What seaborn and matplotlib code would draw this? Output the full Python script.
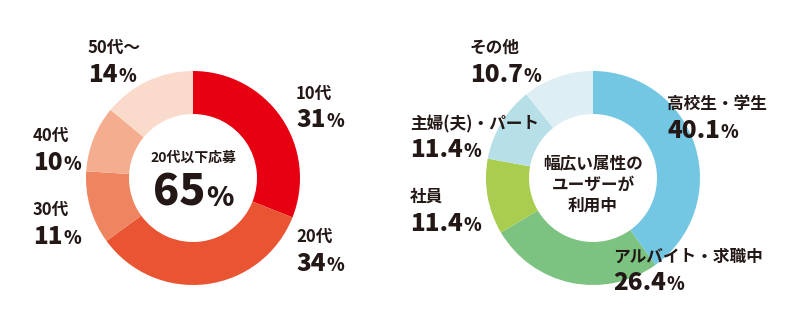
import matplotlib
matplotlib.use("Agg")
import matplotlib.pyplot as plt
import seaborn as sns

# left donut: applicants by age
age_labels = ["10代", "20代", "30代", "40代", "50代〜"]
age_values = [31, 34, 11, 10, 14]
age_colors = ["#E60012", "#E95532", "#EF8460", "#F4AE8F", "#FADACA"]
age_center = ["20代以下応募", "65"]

# right donut: user attributes
attr_labels = ["高校生・学生", "アルバイト・求職中", "社員", "主婦(夫)・パート", "その他"]
attr_values = [40.1, 26.4, 11.4, 11.4, 10.7]
attr_colors = ["#74C7E2", "#7CC381", "#A8CD4F", "#B7DFE8", "#DDEFF4"]
attr_center = ["幅広い属性の", "ユーザーが", "利用中"]

sns.set_theme(style="white")
plt.rcParams["font.family"] = ["Noto Sans CJK JP", "DejaVu Sans"]
plt.rcParams["font.weight"] = "bold"

TXT = "#231815"

fig = plt.figure(figsize=(8, 3.3), dpi=100)
ax = fig.add_axes([0, 0, 1, 1])

R = 107
W = 43


def donut(values, colors, cx, cy):
    ax.pie(values, colors=colors, startangle=90, counterclock=False,
           center=(cx, cy), radius=R, frame=True,
           wedgeprops=dict(width=W, linewidth=0))


donut(age_values, age_colors, 193, 152)
donut(attr_values, attr_colors, 593, 152)
ax.set_xlim(0, 800)
ax.set_ylim(0, 330)
ax.set_aspect("equal")
ax.axis("off")

renderer = fig.canvas.get_renderer()
inv = ax.transData.inverted()


def pct_text(x, y, num, size, psize, ha="left"):
    # number in big type followed by a smaller percent sign
    t = ax.text(x, y, num, fontsize=size, fontweight="black", color=TXT,
                ha="left", va="baseline")
    bb = t.get_window_extent(renderer=renderer)
    x1 = inv.transform((bb.x1, bb.y0))[0]
    p = ax.text(x1 + 1, y, "%", fontsize=psize, fontweight="black", color=TXT,
                ha="left", va="baseline")
    if ha == "center":
        pb = p.get_window_extent(renderer=renderer)
        shift = (pb.x1 - bb.x0) / 2
        dx = inv.transform((bb.x0 - shift, 0))[0] - inv.transform((bb.x0, 0))[0]
        t.set_x(x + dx)
        p.set_x(x1 + 1 + dx)


def label(x, y_name, y_num, name, num):
    ax.text(x, 330 - y_name, name, fontsize=12, fontweight="bold",
            color=TXT, ha="left", va="center")
    pct_text(x, 330 - y_num - 9, num, 17.5, 13)


# left labels
age_pos = [(296, 94, 118), (296, 237, 262), (33, 210, 235), (33, 136, 161), (88, 48, 73)]
for (x, yn, yv), name, v in zip(age_pos, age_labels, age_values):
    label(x, yn, yv, name, f"{v}")

ax.text(193, 330 - 158, age_center[0], fontsize=10, fontweight="bold",
        color=TXT, ha="center", va="center")
pct_text(193, 330 - 206, age_center[1], 31, 20, ha="center")

# right labels
attr_pos = [(667, 104, 129), (613, 257, 281), (410, 197, 222), (410, 124, 148), (470, 48, 73)]
for (x, yn, yv), name, v in zip(attr_pos, attr_labels, attr_values):
    label(x, yn, yv, name, f"{v}")

for i, line in enumerate(attr_center):
    ax.text(593, 330 - (163 + 21.5 * i), line, fontsize=12, fontweight="bold",
            color=TXT, ha="center", va="center")

fig.savefig("out.png", dpi=100)
